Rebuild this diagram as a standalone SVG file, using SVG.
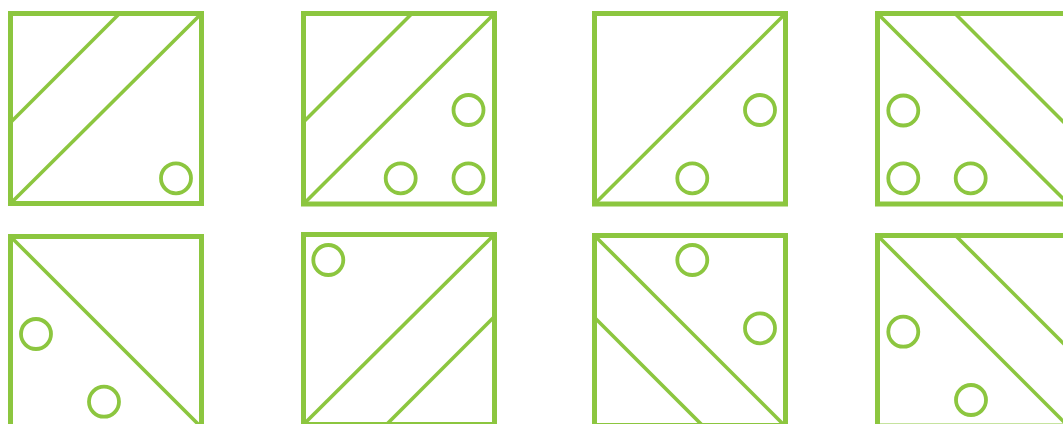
<svg xmlns="http://www.w3.org/2000/svg" width="1063" height="424" viewBox="0 0 1063 424">
<style>
.frame{fill:none;stroke:#8cc63f;stroke-width:5}
.ln{fill:none;stroke:#8cc63f;stroke-width:3.6}
.dot{fill:none;stroke:#8cc63f;stroke-width:3.8}
</style>
<rect width="1063" height="424" fill="#fff"/>
<g id="tile1">
<line class="ln" x1="10.5" y1="203.5" x2="201.5" y2="13.5"/>
<line class="ln" x1="119.5" y1="13.5" x2="10.5" y2="122.5"/>
<rect class="frame" x="10.5" y="13.5" width="191" height="190"/>
<circle class="dot" cx="176" cy="178.3" r="15"/>
</g>
<g id="tile2">
<line class="ln" x1="303.5" y1="204" x2="494.5" y2="13.5"/>
<line class="ln" x1="412" y1="13.5" x2="303.5" y2="122"/>
<rect class="frame" x="303.5" y="13.5" width="191" height="190.5"/>
<circle class="dot" cx="468.5" cy="110" r="15"/>
<circle class="dot" cx="400.7" cy="178.3" r="15"/>
<circle class="dot" cx="468.5" cy="178.3" r="15"/>
</g>
<g id="tile3">
<line class="ln" x1="594.5" y1="204" x2="785.5" y2="13.5"/>
<rect class="frame" x="594.5" y="13.5" width="191" height="190.5"/>
<circle class="dot" cx="760" cy="110" r="15"/>
<circle class="dot" cx="692.3" cy="178.3" r="15"/>
</g>
<g id="tile4">
<line class="ln" x1="877.5" y1="13.5" x2="1068.5" y2="204"/>
<line class="ln" x1="955" y1="13.5" x2="1068.5" y2="127"/>
<rect class="frame" x="877.5" y="13.5" width="191" height="190.5"/>
<circle class="dot" cx="903.3" cy="110.5" r="15"/>
<circle class="dot" cx="903.3" cy="178.3" r="15"/>
<circle class="dot" cx="970.7" cy="178.3" r="15"/>
</g>
<g id="tile5">
<line class="ln" x1="10.5" y1="236.5" x2="201.5" y2="427.5"/>
<rect class="frame" x="10.5" y="236.5" width="191" height="191"/>
<circle class="dot" cx="36" cy="334" r="15"/>
<circle class="dot" cx="104" cy="401.7" r="15"/>
</g>
<g id="tile6">
<line class="ln" x1="303.5" y1="424.5" x2="494.5" y2="234.5"/>
<line class="ln" x1="494.5" y1="316.5" x2="386.5" y2="424.5"/>
<rect class="frame" x="303.5" y="234.5" width="191" height="190"/>
<circle class="dot" cx="328.3" cy="260" r="15"/>
</g>
<g id="tile7">
<line class="ln" x1="594.5" y1="235.5" x2="784.5" y2="425.5"/>
<line class="ln" x1="594.5" y1="317.5" x2="702.5" y2="425.5"/>
<rect class="frame" x="594.5" y="235.5" width="191" height="190"/>
<circle class="dot" cx="692.3" cy="260" r="15"/>
<circle class="dot" cx="760" cy="328.3" r="15"/>
</g>
<g id="tile8">
<line class="ln" x1="877.5" y1="235.5" x2="1068.5" y2="426.5"/>
<line class="ln" x1="955.5" y1="235.5" x2="1068.5" y2="348.5"/>
<rect class="frame" x="877.5" y="235.5" width="191" height="190.5"/>
<circle class="dot" cx="903.3" cy="331.7" r="15"/>
<circle class="dot" cx="971" cy="400" r="15"/>
</g>
<g id="connectors"></g>
</svg>
